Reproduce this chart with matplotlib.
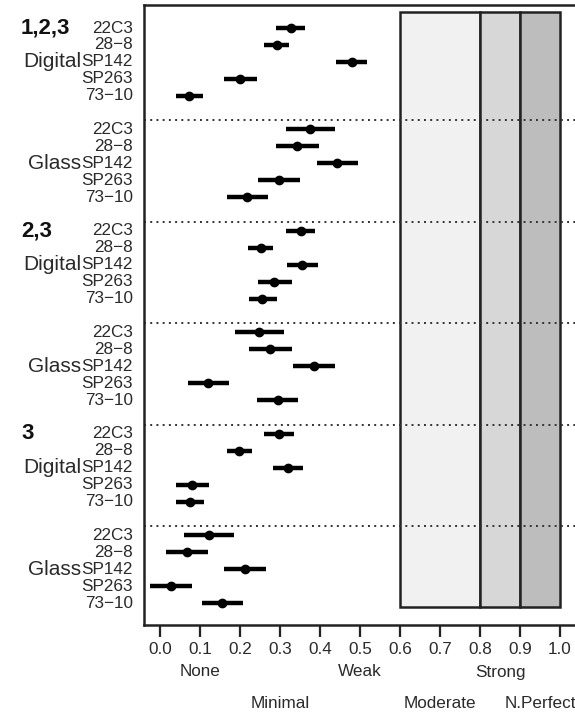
import matplotlib
matplotlib.use("Agg")
import matplotlib.pyplot as plt
import matplotlib.transforms as mtransforms
from matplotlib.patches import Rectangle

plt.rcParams['font.family'] = ['Liberation Sans', 'DejaVu Sans']

# ---- data ----
methods = ["22C3", "28\u22128", "SP142", "SP263", "73\u221210"]
group_numbers = ["1,2,3", "", "2,3", "", "3", ""]
group_kinds = ["Digital", "Glass", "Digital", "Glass", "Digital", "Glass"]

est_123_digital = [0.327, 0.292, 0.479, 0.200, 0.073]
lo_123_digital = [0.290, 0.261, 0.440, 0.160, 0.039]
hi_123_digital = [0.362, 0.323, 0.518, 0.243, 0.108]

est_123_glass = [0.375, 0.343, 0.443, 0.297, 0.218]
lo_123_glass = [0.314, 0.290, 0.392, 0.246, 0.167]
hi_123_glass = [0.437, 0.397, 0.496, 0.350, 0.271]

est_23_digital = [0.352, 0.252, 0.354, 0.286, 0.256]
lo_23_digital = [0.315, 0.221, 0.318, 0.246, 0.222]
hi_23_digital = [0.387, 0.283, 0.396, 0.329, 0.292]

est_23_glass = [0.248, 0.275, 0.385, 0.121, 0.294]
lo_23_glass = [0.187, 0.222, 0.333, 0.071, 0.242]
hi_23_glass = [0.311, 0.329, 0.437, 0.173, 0.346]

est_3_digital = [0.297, 0.198, 0.321, 0.081, 0.075]
lo_3_digital = [0.261, 0.167, 0.282, 0.040, 0.040]
hi_3_digital = [0.335, 0.231, 0.358, 0.122, 0.111]

est_3_glass = [0.122, 0.068, 0.212, 0.027, 0.156]
lo_3_glass = [0.060, 0.014, 0.160, -0.025, 0.104]
hi_3_glass = [0.186, 0.121, 0.264, 0.079, 0.208]

estimates = [est_123_digital, est_123_glass, est_23_digital, est_23_glass, est_3_digital, est_3_glass]
lowers = [lo_123_digital, lo_123_glass, lo_23_digital, lo_23_glass, lo_3_digital, lo_3_glass]
uppers = [hi_123_digital, hi_123_glass, hi_23_digital, hi_23_glass, hi_3_digital, hi_3_glass]

band_edges = [0.6, 0.8, 0.9, 1.0]
band_colors = ["#f1f1f1", "#d7d7d7", "#bdbdbd"]

ticks = [0.0, 0.1, 0.2, 0.3, 0.4, 0.5, 0.6, 0.7, 0.8, 0.9, 1.0]
upper_cats = ["None", "Weak", "Strong"]
upper_pos = [0.1, 0.5, 0.85]
lower_cats = ["Minimal", "Moderate", "N.Perfect"]
lower_pos = [0.3, 0.7, 0.95]

# ---- figure ----
W, H = 575, 712
fig = plt.figure(figsize=(W / 100, H / 100), dpi=100)
ax = fig.add_axes([144 / W, (H - 625) / H, 432 / W, 620 / H])
ax.set_xlim(-0.04, 1.04)
ax.set_ylim(34 + 1.3, -1.36)

txtcol = "#2a2a2a"

# bands
for i in range(3):
    ax.add_patch(Rectangle((band_edges[i], -0.95), band_edges[i + 1] - band_edges[i], 34.24 + 0.95,
                           facecolor=band_colors[i], edgecolor="#222222", linewidth=1.8, zorder=1))

# dotted separators
for g in range(1, 6):
    ax.axhline(g * 6 - 0.55, color="#333333", linestyle=(0, (1, 2.2)), linewidth=1.4, zorder=2)

ylab_tr = mtransforms.blended_transform_factory(fig.transFigure, ax.transData)
for g in range(6):
    for k in range(5):
        y = g * 6 + k
        ax.plot([lowers[g][k], uppers[g][k]], [y, y], color="black", linewidth=3.2,
                solid_capstyle="butt", zorder=3)
        ax.plot(estimates[g][k], y, "o", color="black", markersize=6, zorder=4)
        ax.text(133 / W, y, methods[k], transform=ylab_tr, ha="right", va="center",
                fontsize=12.3, color=txtcol)
    if group_numbers[g]:
        ax.text(21 / W, g * 6, group_numbers[g], transform=ylab_tr, ha="left", va="center",
                fontsize=16, fontweight="bold", color="#111111")
    ax.text(81 / W, g * 6 + 2, group_kinds[g], transform=ylab_tr, ha="right", va="center",
            fontsize=15, color=txtcol)

ax.set_yticks([])
ax.set_xticks(ticks)
ax.set_xticklabels([f"{t:.1f}" for t in ticks], fontsize=12.3, color=txtcol)
ax.tick_params(axis="x", length=8.5, width=1.6, pad=4, color="#222222")
for s in ax.spines.values():
    s.set_linewidth(1.8)
    s.set_color("#222222")

cat_tr = mtransforms.blended_transform_factory(ax.transData, fig.transFigure)
for name, p in zip(upper_cats, upper_pos):
    ax.text(p, (H - 672) / H, name, transform=cat_tr, ha="center", va="center",
            fontsize=12.3, color=txtcol, clip_on=False)
for name, p in zip(lower_cats, lower_pos):
    ax.text(p, (H - 703) / H, name, transform=cat_tr, ha="center", va="center",
            fontsize=12.3, color=txtcol, clip_on=False)

fig.savefig("out.png", dpi=100)
